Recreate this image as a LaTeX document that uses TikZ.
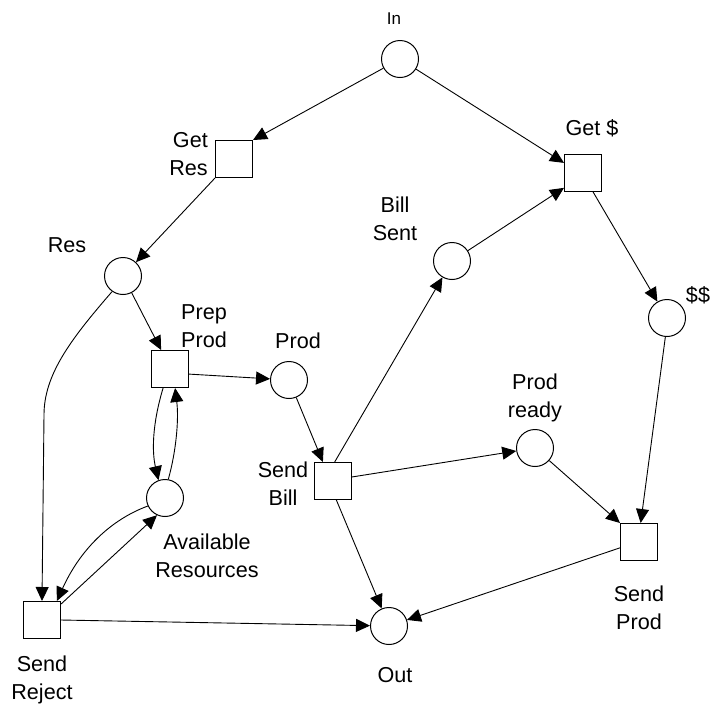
\documentclass[tikz,border=0pt]{standalone}
\usepackage{fontspec}
\setmainfont{Liberation Sans}
\usetikzlibrary{arrows.meta,calc}
\begin{document}
\begin{tikzpicture}[x=1pt,y=-1pt,
  place/.style={circle,draw,line width=1pt,minimum size=37pt,inner sep=0pt},
  trans/.style={rectangle,draw,line width=1pt,minimum size=37pt,inner sep=0pt},
  lbl/.style={inner sep=0pt,align=center,font=\fontsize{21.6}{28}\selectfont},
  arc/.style={line width=0.9pt,-{Triangle[length=14pt,width=13pt]}}]
\useasboundingbox (0,0) rectangle (714,713);

% places
\node[place] (in) at (400,59) {};
\node[place] (res) at (123,276) {};
\node[place] (billsent) at (452,261) {};
\node[place] (dd) at (667,318) {};
\node[place] (prod) at (289,380) {};
\node[place] (prodready) at (535,448) {};
\node[place] (avail) at (165,498) {};
\node[place] (out) at (389,626) {};

% transitions
\node[trans] (getres) at (234,159) {};
\node[trans] (getd) at (583,173) {};
\node[trans] (prepprod) at (170,369) {};
\node[trans] (sendbill) at (333,481) {};
\node[trans] (sendprod) at (639,542) {};
\node[trans] (sendreject) at (42,620) {};

% labels
\node[inner sep=0pt,font=\fontsize{17}{20}\selectfont] (lin) at (394,19) {In};
\node[lbl,align=right,anchor=east] (lgetres) at (208,154) {Get\\Res};
\node[lbl] (lgetd) at (592,128) {Get \$};
\node[lbl] (lres) at (67,245) {Res};
\node[lbl] (lbillsent) at (395,219) {Bill\\Sent};
\node[lbl] (ldd) at (698,295) {\$\$};
\node[lbl] (lprepprod) at (204,326) {Prep\\Prod};
\node[lbl] (lprod) at (298,341) {Prod};
\node[lbl] (lsendbill) at (283,484) {Send\\Bill};
\node[lbl] (lprodready) at (535,398) {Prod\\ready};
\node[lbl] (lavail) at (207,556) {Available\\Resources};
\node[lbl] (lsendprod) at (639,608) {Send\\Prod};
\node[lbl] (lsendreject) at (42,680) {Send\\Reject};
\node[lbl] (lout) at (395,675) {Out};

% arcs
\draw[arc] (in) -- (getres.north east);
\draw[arc] (in) -- (getd.152);
\draw[arc] (getres.south west) -- (res);
\draw[arc] (getd.-62) -- (dd);
\draw[arc] (billsent) -- (getd.-142);
\draw[arc] (res) -- (prepprod.115);
\draw[arc] (res.235) .. controls (70,340) and (44,375) .. (44,415) -- (sendreject.north);
\draw[arc] (prepprod.-15) -- (prod);
\draw[arc] (prepprod.-110) .. controls (152,425) and (152,452) .. (avail.110);
\draw[arc] (avail.80) .. controls (176,452) and (179,420) .. (prepprod.-75);
\draw[arc] (prod) -- (sendbill.118);
\draw[arc] (sendbill.85) -- (billsent);
\draw[arc] (sendbill.12) -- (prodready);
\draw[arc] (sendbill.-80) -- (out);
\draw[arc] (sendreject.east) -- (out);
\draw[arc] (sendreject.40) -- (avail.245);
\draw[arc] (avail.205) .. controls (110,520) and (80,550) .. (sendreject.52);
\draw[arc] (prodready) -- (sendprod.north west);
\draw[arc] (dd.265) -- (sendprod.85);
\draw[arc] (sendprod.197) -- (out);
\end{tikzpicture}
\end{document}
